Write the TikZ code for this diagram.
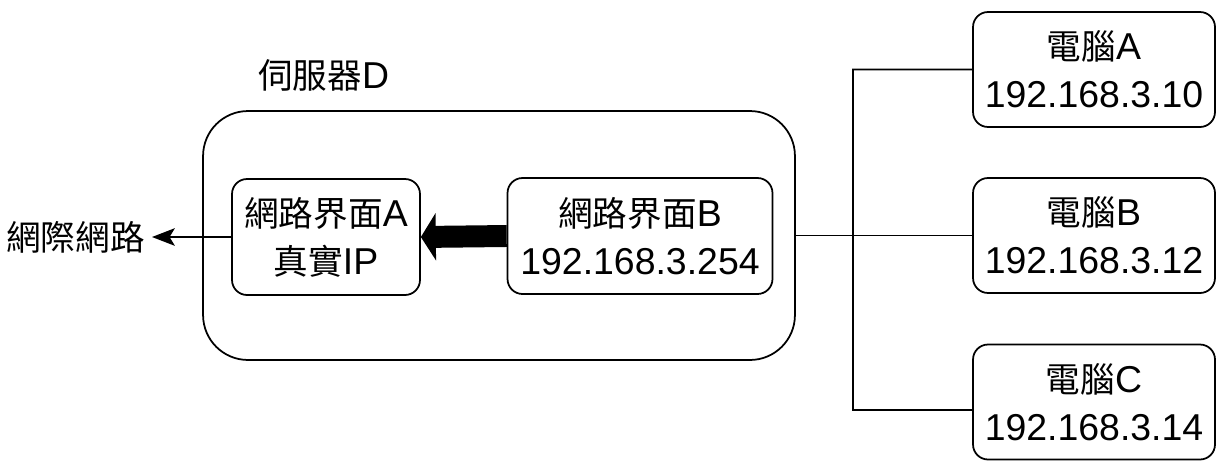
\documentclass[tikz,border=0pt]{standalone}
\usepackage{fontspec}
\setmainfont{Liberation Sans}
\newfontfamily\cjk[Scale=0.925]{Noto Sans CJK TC}
\usetikzlibrary{arrows.meta,positioning}

\tikzset{
  box/.style={draw, line width=1pt, rounded corners=0.3cm, align=center,
    minimum height=2.32cm, inner sep=0pt, font=\fontsize{21.3}{27.2}\selectfont},
  label text/.style={inner sep=0pt, font=\fontsize{21.3}{27.2}\selectfont},
  link/.style={line width=1pt},
}

\begin{document}
\begin{tikzpicture}[x=0.02cm,y=-0.02cm]
  \useasboundingbox (0,0) rectangle (1223,474);
  % Server
  \node[box, rounded corners=0.9cm, minimum width=11.84cm, minimum height=4.98cm] (server) at (499,235.5) {};
  \node[label text, anchor=west] (serverlabel) at (258,75) {{\cjk 伺服器}D};
  % Interfaces
  \node[box, minimum width=3.76cm] (ifA) at (326,237) {{\cjk 網路界面}A\\{\cjk 真實}IP};
  \node[box, minimum width=5.3cm] (ifB) at (640,236) {{\cjk 網路界面}B\\192.168.3.254};
  % Internet
  \node[label text, anchor=east, inner sep=4pt] (net) at (152,237) {\cjk 網際網路};
  \draw[link, -{Stealth[length=13pt,width=10pt,inset=3pt]}] (ifA.west) -- (net.east);
  % Forwarding
  \draw[line width=12.5pt, -{Triangle[length=8.5pt,width=26.6pt]}] (ifB.west) -- (ifA.east);
  % Computers
  \node[box, minimum width=4.84cm, minimum height=2.3cm] (pcA) at (1094,69.5) {{\cjk 電腦}A\\192.168.3.10};
  \node[box, minimum width=4.84cm, minimum height=2.3cm] (pcB) at (1094,235.5) {{\cjk 電腦}B\\192.168.3.12};
  \node[box, minimum width=4.84cm, minimum height=2.3cm] (pcC) at (1094,402) {{\cjk 電腦}C\\192.168.3.14};
  % Switch lines
  \coordinate (busbot) at (853,410);
  \draw[link] (server.east) -- (pcB.west);
  \draw[link] (pcA.west) -| (busbot) -- ([yshift=-0.16cm]pcC.west);
\end{tikzpicture}
\end{document}
